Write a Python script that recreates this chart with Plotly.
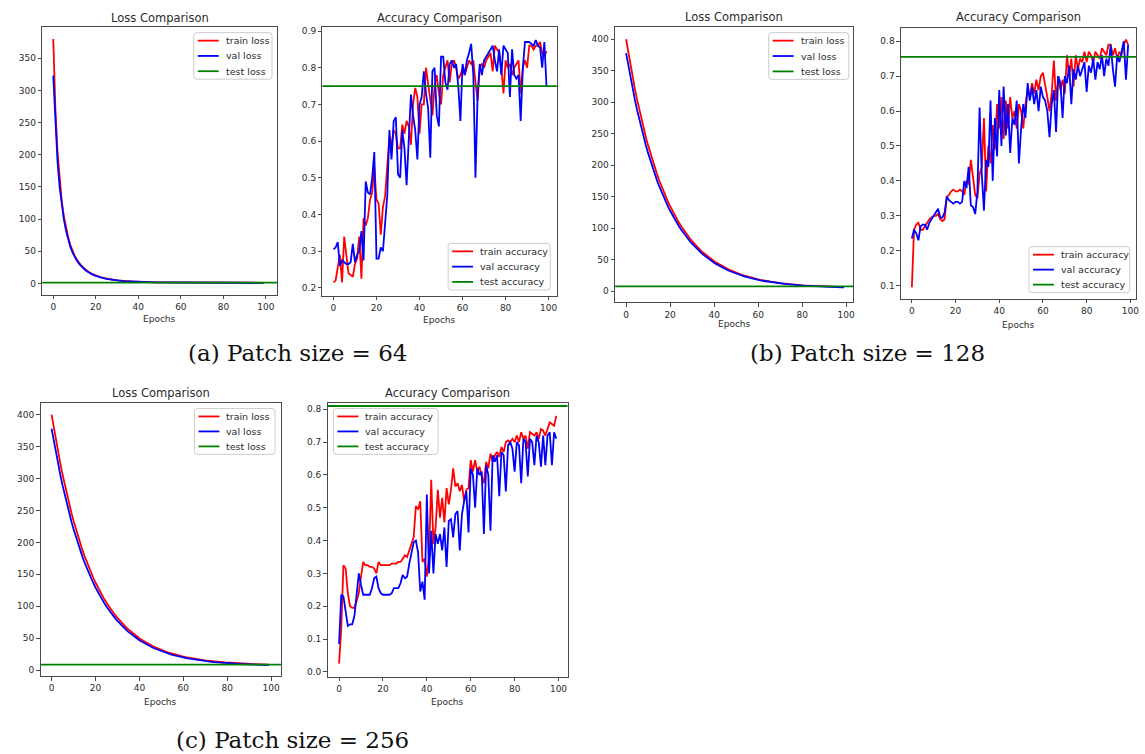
import plotly.graph_objects as go

W, H = 1145, 754
EPOCHS = list(range(100))

# ---------------- Patch size = 64 ----------------
loss64_train = [
    380, 272, 205, 160, 128, 104, 86, 72, 60, 51,
    43.5, 37.5, 32.5, 28.3, 24.8, 21.8, 19.2, 17.0, 15.1, 13.5,
    12.1, 10.9, 9.8, 8.9, 8.1, 7.4, 6.7, 6.1, 5.6, 5.1,
    4.7, 4.3, 4.0, 3.7, 3.4, 3.2, 3.0, 2.8, 2.6, 2.5,
    2.3, 2.2, 2.1, 2.0, 1.9, 1.8, 1.7, 1.65, 1.6, 1.55,
    1.5, 1.47, 1.44, 1.41, 1.38, 1.35, 1.33, 1.31, 1.29, 1.27,
    1.25, 1.23, 1.21, 1.2, 1.18, 1.17, 1.15, 1.14, 1.13, 1.12,
    1.1, 1.09, 1.08, 1.07, 1.06, 1.05, 1.04, 1.03, 1.02, 1.01,
    1.0, 0.99, 0.98, 0.97, 0.97, 0.96, 0.95, 0.94, 0.94, 0.93,
    0.92, 0.92, 0.91, 0.9, 0.9, 0.89, 0.89, 0.88, 0.88, 0.87,
]
loss64_val = [
    323, 245, 190, 150, 121, 99, 82, 68, 57, 48.5,
    41.5, 35.8, 31.0, 27.0, 23.7, 20.8, 18.3, 16.2, 14.4, 12.8,
    11.5, 10.3, 9.3, 8.4, 7.6, 6.9, 6.3, 5.7, 5.2, 4.8,
    4.4, 4.0, 3.7, 3.4, 3.2, 3.0, 2.8, 2.6, 2.4, 2.3,
    2.2, 2.1, 2.0, 1.9, 1.8, 1.7, 1.6, 1.55, 1.5, 1.45,
    1.4, 1.38, 1.35, 1.32, 1.3, 1.28, 1.26, 1.24, 1.22, 1.2,
    1.18, 1.17, 1.15, 1.14, 1.12, 1.11, 1.1, 1.09, 1.08, 1.06,
    1.05, 1.04, 1.03, 1.02, 1.01, 1.0, 0.99, 0.98, 0.97, 0.96,
    0.95, 0.94, 0.94, 0.93, 0.92, 0.91, 0.91, 0.9, 0.89, 0.89,
    0.88, 0.88, 0.87, 0.86, 0.86, 0.85, 0.85, 0.84, 0.84, 0.83,
]
loss64_test = 1.0

acc64_train = [
    0.215, 0.22, 0.255, 0.29, 0.215, 0.34, 0.29, 0.24, 0.235, 0.23,
    0.265, 0.28, 0.34, 0.225, 0.39, 0.37, 0.39, 0.44, 0.46, 0.53,
    0.44, 0.43, 0.345, 0.42, 0.45, 0.54, 0.61, 0.59, 0.63, 0.62,
    0.58, 0.58, 0.645, 0.62, 0.655, 0.64, 0.59, 0.70, 0.745, 0.72,
    0.62, 0.70, 0.70, 0.80, 0.76, 0.72, 0.67, 0.75, 0.78, 0.73,
    0.70, 0.78, 0.80, 0.82, 0.76, 0.81, 0.82, 0.80, 0.77, 0.78,
    0.80, 0.78, 0.80, 0.82, 0.81, 0.82, 0.76, 0.71, 0.80, 0.81,
    0.80, 0.82, 0.83, 0.84, 0.79, 0.86, 0.85, 0.84, 0.80, 0.73,
    0.82, 0.80, 0.81, 0.78, 0.80, 0.81, 0.82, 0.73, 0.80, 0.82,
    0.80, 0.86, 0.86, 0.85, 0.86, 0.86, 0.87, 0.84, 0.83, 0.845,
]
acc64_val = [
    0.305, 0.31, 0.325, 0.26, 0.275, 0.27, 0.265, 0.265, 0.27, 0.32,
    0.27, 0.29, 0.30, 0.355, 0.275, 0.49, 0.46, 0.455, 0.50, 0.57,
    0.28, 0.28, 0.31, 0.30, 0.38, 0.45, 0.63, 0.55, 0.655, 0.665,
    0.51, 0.50, 0.63, 0.58, 0.48, 0.60, 0.727, 0.67, 0.63, 0.55,
    0.70, 0.72, 0.79, 0.73, 0.69, 0.555, 0.79, 0.80, 0.67, 0.64,
    0.83, 0.83, 0.76, 0.74, 0.81, 0.82, 0.80, 0.81, 0.75, 0.655,
    0.81, 0.78, 0.82, 0.84, 0.865, 0.78, 0.50, 0.73, 0.81, 0.78,
    0.82, 0.83, 0.84, 0.85, 0.86, 0.82, 0.79, 0.85, 0.78, 0.86,
    0.85, 0.84, 0.72, 0.85, 0.78, 0.77, 0.78, 0.655, 0.80, 0.87,
    0.87, 0.87, 0.865, 0.86, 0.875, 0.86, 0.855, 0.80, 0.87, 0.75,
]
acc64_test = 0.75

# ---------------- Patch size = 128 ----------------
loss128_train = [
    400, 378.7, 358.5, 339.4, 321.3, 304.2, 288.0, 272.7, 258.3, 244.6,
    231.6, 219.4, 207.8, 196.8, 186.5, 176.7, 167.4, 158.6, 150.3, 142.5,
    135.0, 128.0, 121.4, 115.1, 109.1, 103.5, 98.2, 93.1, 88.4, 83.9,
    79.6, 75.6, 71.8, 68.2, 64.7, 61.5, 58.5, 55.6, 52.8, 50.3,
    47.8, 45.5, 43.3, 41.2, 39.3, 37.4, 35.7, 34.0, 32.4, 31.0,
    29.6, 28.2, 27.0, 25.8, 24.7, 23.6, 22.6, 21.6, 20.8, 19.9,
    19.1, 18.3, 17.6, 16.9, 16.3, 15.7, 15.1, 14.6, 14.0, 13.5,
    13.1, 12.7, 12.2, 11.8, 11.5, 11.1, 10.8, 10.5, 10.2, 9.9,
    9.6, 9.4, 9.1, 8.9, 8.7, 8.5, 8.3, 8.1, 8.0, 7.8,
    7.6, 7.5, 7.4, 7.2, 7.1, 7.0, 6.9, 6.8, 6.7, 6.6,
]
loss128_val = [
    378.0, 358.0, 339.0, 321.0, 304.0, 287.8, 272.5, 258.1, 244.4, 231.5,
    219.3, 207.6, 196.6, 186.3, 176.5, 167.2, 158.4, 150.1, 142.3, 134.9,
    127.8, 121.2, 114.9, 109.0, 103.4, 98.1, 93.0, 88.3, 83.8, 79.5,
    75.5, 71.7, 68.1, 64.6, 61.4, 58.4, 55.5, 52.7, 50.2, 47.7,
    45.4, 43.2, 41.1, 39.2, 37.3, 35.6, 33.9, 32.3, 30.9, 29.5,
    28.1, 26.9, 25.7, 24.6, 23.5, 22.5, 21.5, 20.7, 19.8, 19.0,
    18.2, 17.5, 16.8, 16.2, 15.6, 15.0, 14.5, 13.9, 13.4, 13.0,
    12.6, 12.1, 11.7, 11.4, 11.0, 10.7, 10.4, 10.1, 9.8, 9.5,
    9.3, 9.0, 8.8, 8.6, 8.4, 8.2, 8.0, 7.9, 7.7, 7.5,
    7.4, 7.3, 7.1, 7.0, 6.9, 6.8, 6.7, 6.6, 6.5, 6.5,
]
loss128_test = 8.0

acc128_train = [
    0.095, 0.26, 0.275, 0.28, 0.26, 0.26, 0.27, 0.28, 0.29, 0.295,
    0.30, 0.30, 0.305, 0.29, 0.285, 0.29, 0.355, 0.36, 0.37, 0.375,
    0.37, 0.37, 0.375, 0.37, 0.36, 0.40, 0.39, 0.46, 0.40, 0.36,
    0.35, 0.42, 0.44, 0.58, 0.37, 0.50, 0.45, 0.56, 0.49, 0.62,
    0.55, 0.64, 0.52, 0.63, 0.55, 0.64, 0.58, 0.60, 0.55, 0.62,
    0.60, 0.55, 0.62, 0.66, 0.64, 0.68, 0.65, 0.69, 0.66, 0.70,
    0.71, 0.68, 0.64, 0.60, 0.65, 0.745, 0.63, 0.70, 0.66, 0.69,
    0.65, 0.76, 0.70, 0.75, 0.67, 0.76, 0.72, 0.75, 0.74, 0.77,
    0.74, 0.77, 0.76, 0.74, 0.77, 0.76, 0.75, 0.78, 0.77, 0.76,
    0.79, 0.79, 0.76, 0.78, 0.75, 0.77, 0.76, 0.79, 0.805, 0.79,
]
acc128_val = [
    0.235, 0.26, 0.25, 0.23, 0.27, 0.275, 0.275, 0.26, 0.28, 0.29,
    0.30, 0.31, 0.32, 0.295, 0.295, 0.31, 0.355, 0.345, 0.34, 0.335,
    0.34, 0.34, 0.335, 0.34, 0.40, 0.38, 0.44, 0.33, 0.325, 0.305,
    0.37, 0.61, 0.42, 0.315, 0.46, 0.44, 0.63, 0.40, 0.58, 0.47,
    0.66, 0.50, 0.67, 0.53, 0.62, 0.48, 0.58, 0.56, 0.63, 0.45,
    0.55, 0.62, 0.58, 0.68, 0.63, 0.67, 0.62, 0.66, 0.60, 0.67,
    0.64, 0.63, 0.60, 0.525, 0.62, 0.66, 0.54, 0.70, 0.68, 0.58,
    0.70, 0.68, 0.73, 0.62, 0.72, 0.69, 0.73, 0.70, 0.72, 0.74,
    0.655, 0.73, 0.71, 0.75, 0.69, 0.74, 0.72, 0.76, 0.70, 0.75,
    0.73, 0.79, 0.72, 0.67, 0.76, 0.74, 0.77, 0.80, 0.69, 0.79,
]
acc128_test = 0.755

# ---------------- Patch size = 256 ----------------
loss256_train = [
    400, 379.5, 359.8, 341.0, 323.2, 306.2, 290.1, 274.8, 260.4, 246.7,
    233.8, 221.5, 209.9, 198.9, 188.6, 178.8, 169.5, 160.7, 152.4, 144.6,
    137.1, 130.1, 123.5, 117.2, 111.2, 105.6, 100.3, 95.2, 90.5, 86.0,
    81.7, 77.7, 73.9, 70.3, 66.8, 63.6, 60.6, 57.7, 54.9, 52.4,
    49.9, 47.6, 45.4, 43.3, 41.4, 39.5, 37.8, 36.1, 34.5, 33.1,
    31.7, 30.3, 29.1, 27.9, 26.8, 25.7, 24.7, 23.7, 22.9, 22.0,
    21.2, 20.4, 19.7, 19.0, 18.4, 17.8, 17.2, 16.7, 16.1, 15.6,
    15.2, 14.8, 14.3, 13.9, 13.6, 13.2, 12.9, 12.6, 12.3, 12.0,
    11.7, 11.5, 11.2, 11.0, 10.8, 10.6, 10.4, 10.2, 10.1, 9.9,
    9.7, 9.6, 9.5, 9.3, 9.2, 9.1, 9.0, 8.9, 8.8, 8.7,
]
loss256_val = [
    378.0, 359.0, 340.2, 322.4, 305.5, 289.4, 274.1, 259.7, 246.0, 233.1,
    220.8, 209.2, 198.2, 187.9, 178.1, 168.8, 160.0, 151.7, 143.9, 136.4,
    129.4, 122.8, 116.5, 110.5, 104.9, 99.6, 94.5, 89.8, 85.3, 81.0,
    77.0, 73.2, 69.6, 66.1, 62.9, 59.9, 57.0, 54.2, 51.7, 49.2,
    46.9, 44.7, 42.6, 40.7, 38.8, 37.1, 35.4, 33.8, 32.4, 31.0,
    29.6, 28.4, 27.2, 26.1, 25.0, 24.0, 23.0, 22.2, 21.3, 20.5,
    19.7, 19.0, 18.3, 17.7, 17.1, 16.5, 16.0, 15.4, 14.9, 14.5,
    14.1, 13.6, 13.2, 12.9, 12.5, 12.2, 11.9, 11.6, 11.3, 11.0,
    10.8, 10.5, 10.3, 10.1, 9.9, 9.7, 9.5, 9.4, 9.2, 9.0,
    8.9, 8.8, 8.6, 8.5, 8.4, 8.3, 8.2, 8.1, 8.0, 8.0,
]
loss256_test = 8.5

acc256_train = [
    0.025, 0.13, 0.325, 0.315, 0.24, 0.20, 0.195, 0.195, 0.215, 0.24,
    0.29, 0.335, 0.325, 0.325, 0.32, 0.32, 0.315, 0.30, 0.335, 0.325,
    0.325, 0.325, 0.325, 0.325, 0.33, 0.33, 0.33, 0.335, 0.335, 0.345,
    0.355, 0.35, 0.37, 0.39, 0.41, 0.505, 0.495, 0.52, 0.335, 0.345,
    0.29, 0.35, 0.585, 0.39, 0.44, 0.555, 0.47, 0.53, 0.455, 0.56,
    0.51, 0.555, 0.62, 0.565, 0.575, 0.55, 0.57, 0.52, 0.555, 0.56,
    0.645, 0.61, 0.645, 0.61, 0.625, 0.595, 0.575, 0.64, 0.62, 0.665,
    0.64, 0.66, 0.67, 0.655, 0.685, 0.67, 0.70, 0.705, 0.70, 0.71,
    0.70, 0.72, 0.70, 0.73, 0.71, 0.72, 0.68, 0.73, 0.725, 0.72,
    0.73, 0.71, 0.74, 0.735, 0.72, 0.74, 0.76, 0.755, 0.75, 0.78,
]
acc256_val = [
    0.085, 0.235, 0.23, 0.18, 0.14, 0.145, 0.145, 0.17, 0.245, 0.30,
    0.265, 0.235, 0.235, 0.235, 0.235, 0.255, 0.285, 0.29, 0.255, 0.24,
    0.235, 0.235, 0.235, 0.235, 0.24, 0.255, 0.255, 0.255, 0.27, 0.295,
    0.285, 0.29, 0.33, 0.365, 0.395, 0.40, 0.365, 0.245, 0.275, 0.22,
    0.54, 0.30, 0.43, 0.30, 0.42, 0.39, 0.42, 0.37, 0.44, 0.32,
    0.46, 0.465, 0.41, 0.48, 0.49, 0.37, 0.48, 0.52, 0.55, 0.425,
    0.62, 0.60, 0.50, 0.62, 0.60, 0.61, 0.42, 0.63, 0.60, 0.43,
    0.66, 0.64, 0.66, 0.535, 0.67, 0.66, 0.55, 0.69, 0.70, 0.68,
    0.61, 0.70, 0.69, 0.575, 0.71, 0.70, 0.595, 0.71, 0.70, 0.63,
    0.72, 0.70, 0.625, 0.72, 0.63, 0.72, 0.73, 0.63, 0.73, 0.71,
]
acc256_test = 0.81

X_TICKS = [0, 20, 40, 60, 80, 100]
LOSS_TICKS_64 = [0, 50, 100, 150, 200, 250, 300, 350]
LOSS_TICKS = [0, 50, 100, 150, 200, 250, 300, 350, 400]
ACC_TICKS_64 = [0.2, 0.3, 0.4, 0.5, 0.6, 0.7, 0.8, 0.9]
ACC_TICKS_128 = [0.1, 0.2, 0.3, 0.4, 0.5, 0.6, 0.7, 0.8]
ACC_TICKS_256 = [0.0, 0.1, 0.2, 0.3, 0.4, 0.5, 0.6, 0.7, 0.8]

LOSS_LABELS = ["train loss", "val loss", "test loss"]
ACC_LABELS = ["train accuracy", "val accuracy", "test accuracy"]

RED, BLUE, GREEN = "#ff0000", "#0000ff", "#008000"
TEXT = "#2b2b2b"
SPINE = "#4a4a4a"
FONT = "DejaVu Sans"
LW = 1.8


def px(x):
    return x / W


def py(y):
    return 1 - y / H


# Each panel: frame in pixels (left, top, right, bottom), axis ranges,
# title/xlabel positions and legend box geometry.
panels = [
    dict(frame=(42.3, 26, 277.7, 294), xr=[-5.2, 105.2], yr=[-17.5, 398.6],
         yt=LOSS_TICKS_64, fmt="d", title="Loss Comparison", ty=16.7, ly=318.3,
         train=loss64_train, val=loss64_val, test=loss64_test, labels=LOSS_LABELS,
         leg=(194.3, 31.7, 272.7, 78.3)),
    dict(frame=(323.3, 26, 558.3, 295), xr=[-5.1, 103.8], yr=[0.179, 0.911],
         yt=ACC_TICKS_64, fmt=".1f", title="Accuracy Comparison", ty=16.7, ly=319.3,
         train=acc64_train, val=acc64_val, test=acc64_test, labels=ACC_LABELS,
         leg=(449.3, 242.7, 551.7, 289.3)),
    dict(frame=(616.7, 26, 855.7, 301.7), xr=[-5.0, 103.3], yr=[-17.4, 419.5],
         yt=LOSS_TICKS, fmt="d", title="Loss Comparison", ty=15.7, ly=323.3,
         train=loss128_train, val=loss128_val, test=loss128_test, labels=LOSS_LABELS,
         leg=(770.7, 31.7, 851.0, 78.5)),
    dict(frame=(903.3, 27, 1139.0, 298.3), xr=[-5.0, 102.6], yr=[0.062, 0.838],
         yt=ACC_TICKS_128, fmt=".1f", title="Accuracy Comparison", ty=15.7, ly=324.0,
         train=acc128_train, val=acc128_val, test=acc128_test, labels=ACC_LABELS,
         leg=(1031.7, 246.0, 1132.7, 292.0)),
    dict(frame=(40.7, 402.7, 281.7, 676), xr=[-5.0, 104.5], yr=[-9.4, 418],
         yt=LOSS_TICKS, fmt="d", title="Loss Comparison", ty=392.7, ly=701.7,
         train=loss256_train, val=loss256_val, test=loss256_test, labels=LOSS_LABELS,
         leg=(195.0, 408.0, 275.7, 454.0)),
    dict(frame=(328.5, 402.7, 569.0, 676.7), xr=[-5.2, 104.1], yr=[-0.015, 0.8186],
         yt=ACC_TICKS_256, fmt=".1f", title="Accuracy Comparison", ty=392.7, ly=701.7,
         train=acc256_train, val=acc256_val, test=acc256_test, labels=ACC_LABELS,
         leg=(334.3, 408.0, 439.3, 454.0)),
]

fig = go.Figure()
shapes, annotations = [], []
layout_axes = {}


def rounded_rect(x0, y0, x1, y1, r=3):
    pts = [
        f"M{px(x0 + r)},{py(y0)}", f"L{px(x1 - r)},{py(y0)}",
        f"Q{px(x1)},{py(y0)} {px(x1)},{py(y0 + r)}", f"L{px(x1)},{py(y1 - r)}",
        f"Q{px(x1)},{py(y1)} {px(x1 - r)},{py(y1)}", f"L{px(x0 + r)},{py(y1)}",
        f"Q{px(x0)},{py(y1)} {px(x0)},{py(y1 - r)}", f"L{px(x0)},{py(y0 + r)}",
        f"Q{px(x0)},{py(y0)} {px(x0 + r)},{py(y0)}", "Z",
    ]
    return " ".join(pts)


for i, p in enumerate(panels, start=1):
    sfx = "" if i == 1 else str(i)
    xa, ya = f"x{sfx}", f"y{sfx}"
    x0, y0, x1, y1 = p["frame"]

    axis_common = dict(
        showline=True, mirror=True, linecolor=SPINE, linewidth=1,
        ticks="outside", ticklen=3.5, tickwidth=1, tickcolor=SPINE,
        tickfont=dict(family=FONT, size=9, color=TEXT),
        showgrid=False, zeroline=False, fixedrange=True,
    )
    layout_axes[f"xaxis{sfx}"] = dict(
        axis_common, domain=[px(x0), px(x1)], range=p["xr"],
        tickvals=X_TICKS, anchor=ya,
    )
    layout_axes[f"yaxis{sfx}"] = dict(
        axis_common, domain=[py(y1), py(y0)], range=p["yr"],
        tickvals=p["yt"], tickformat=p["fmt"], anchor=xa,
    )

    fig.add_trace(go.Scatter(x=EPOCHS, y=p["train"], mode="lines", xaxis=xa, yaxis=ya,
                             line=dict(color=RED, width=LW), showlegend=False,
                             name=p["labels"][0]))
    fig.add_trace(go.Scatter(x=EPOCHS, y=p["val"], mode="lines", xaxis=xa, yaxis=ya,
                             line=dict(color=BLUE, width=LW), showlegend=False,
                             name=p["labels"][1]))

    # horizontal reference for the test score, spanning the whole axes
    shapes.append(dict(type="line", xref=f"{xa} domain", yref=ya, x0=0, x1=1,
                       y0=p["test"], y1=p["test"], line=dict(color=GREEN, width=LW)))

    # panel title and x-axis label
    annotations.append(dict(text=p["title"], xref="paper", yref="paper",
                            x=px((x0 + x1) / 2), y=py(p["ty"]), showarrow=False,
                            xanchor="center", yanchor="middle",
                            font=dict(family=FONT, size=11.5, color=TEXT)))
    annotations.append(dict(text="Epochs", xref="paper", yref="paper",
                            x=px((x0 + x1) / 2), y=py(p["ly"]), showarrow=False,
                            xanchor="center", yanchor="middle",
                            font=dict(family=FONT, size=9, color=TEXT)))

    # legend box
    lx0, ly0, lx1, ly1 = p["leg"]
    shapes.append(dict(type="path", xref="paper", yref="paper",
                       path=rounded_rect(lx0, ly0, lx1, ly1),
                       fillcolor="rgba(255,255,255,0.8)",
                       line=dict(color="#cccccc", width=1)))
    step = (ly1 - ly0 - 16) / 2
    for k, (lab, col) in enumerate(zip(p["labels"], [RED, BLUE, GREEN])):
        ry = ly0 + 8 + k * step
        shapes.append(dict(type="line", xref="paper", yref="paper",
                           x0=px(lx0 + 4), x1=px(lx0 + 25), y0=py(ry), y1=py(ry),
                           line=dict(color=col, width=LW)))
        annotations.append(dict(text=lab, xref="paper", yref="paper",
                                x=px(lx0 + 30), y=py(ry), showarrow=False,
                                xanchor="left", yanchor="middle",
                                font=dict(family=FONT, size=9.5, color=TEXT)))

# sub-figure captions
CAPTIONS = [("(a) Patch size = 64", 298, 352),
            ("(b) Patch size = 128", 870, 352),
            ("(c) Patch size = 256", 293, 740)]
for text, cx, cy in CAPTIONS:
    annotations.append(dict(text=text, xref="paper", yref="paper", x=px(cx), y=py(cy),
                            showarrow=False, xanchor="center", yanchor="middle",
                            font=dict(family="DejaVu Serif", size=23, color="#111111")))

fig.update_layout(
    width=W, height=H, autosize=False,
    margin=dict(l=0, r=0, t=0, b=0, pad=0),
    paper_bgcolor="white", plot_bgcolor="white",
    showlegend=False,
    shapes=shapes, annotations=annotations,
    **layout_axes,
)

fig.write_html("out.html", include_plotlyjs=True, config={"displayModeBar": False})
